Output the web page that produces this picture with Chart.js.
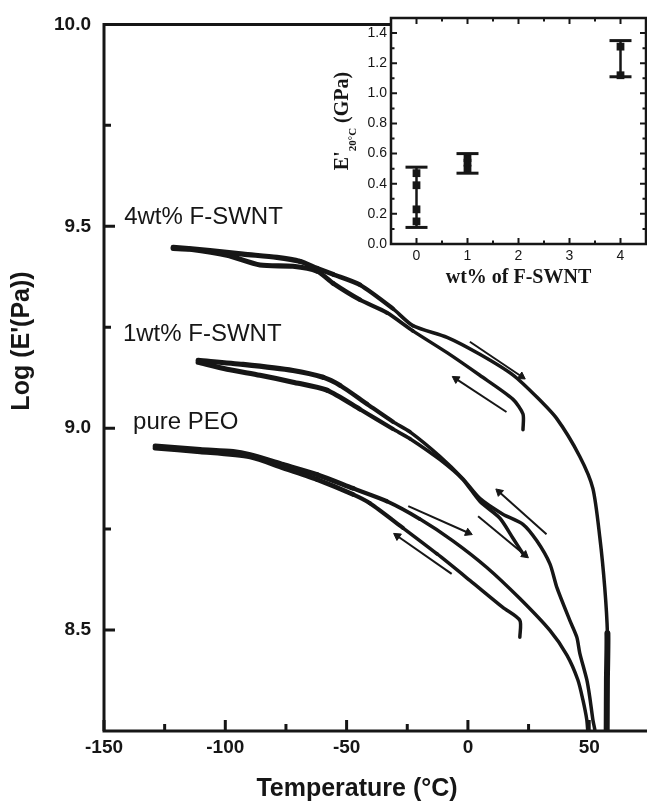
<!DOCTYPE html>
<html>
<head>
<meta charset="utf-8">
<script src="https://cdn.jsdelivr.net/npm/chart.js@4.4.1/dist/chart.umd.min.js"></script>
<style>
  html, body { margin: 0; padding: 0; background: #fff; overflow: hidden; }
  #wrap { position: relative; width: 647px; height: 812px; overflow: hidden; background: #fff; }
  #main { position: absolute; left: 0; top: 0; }
  #inset { position: absolute; left: 300px; top: 0; }
</style>
</head>
<body>
<div id="wrap">
  <canvas id="main" width="700" height="812"></canvas>
  <canvas id="inset" width="360" height="300"></canvas>
</div>
<script>
// Main plot: log storage modulus vs temperature, heating and cooling branch per sample
const pureHeatT = [-128.9, -110.4, -96.8, -89.8, -76.2, -62.2, -47.4, -33.4, -19.8, -6.2, 7.8, 21.4, 33.8, 40.8, 45.3, 47.4, 49.0, 49.4];
const pureHeatLogE = [8.956, 8.947, 8.942, 8.934, 8.910, 8.885, 8.851, 8.819, 8.775, 8.721, 8.655, 8.578, 8.499, 8.438, 8.377, 8.327, 8.278, 8.25];
const pureCoolT = [-128.9, -110.4, -89.8, -76.2, -62.2, -47.4, -40.4, -26.8, -12.8, 0.8, 14.4, 21.4, 21.4];
const pureCoolLogE = [8.951, 8.942, 8.929, 8.902, 8.873, 8.836, 8.814, 8.753, 8.689, 8.623, 8.556, 8.524, 8.482];

const oneHeatT = [-111.2, -92.7, -72.1, -59.7, -52.7, -41.6, -30.9, -23.9, -11.5, -2.1, 4.9, 14.4, 22.7, 28.4, 33.8, 36.7, 42.0, 44.9, 46.1, 49.0, 50.2, 51.5, 52.3];
const oneHeatLogE = [9.168, 9.158, 9.143, 9.126, 9.106, 9.060, 9.016, 8.991, 8.930, 8.875, 8.826, 8.787, 8.762, 8.721, 8.664, 8.605, 8.524, 8.482, 8.443, 8.377, 8.335, 8.278, 8.254];
const oneCoolT = [-111.2, -99.3, -85.7, -72.1, -58.1, -44.5, -30.9, -23.9, -11.5, -2.1, 4.9, 13.2, 18.5, 22.7];
const oneCoolLogE = [9.163, 9.146, 9.131, 9.114, 9.094, 9.047, 8.998, 8.974, 8.922, 8.873, 8.819, 8.777, 8.728, 8.689];

const fourHeatT = [-121.5, -106.3, -92.7, -78.7, -69.2, -62.2, -55.6, -44.5, -30.9, -22.7, -8.6, 4.9, 18.5, 28.4, 36.7, 46.1, 51.5, 54.4, 56.4, 57.5, 57.3, 57.2];
const fourHeatLogE = [9.448, 9.440, 9.431, 9.423, 9.413, 9.396, 9.381, 9.355, 9.296, 9.254, 9.225, 9.183, 9.132, 9.077, 9.023, 8.930, 8.851, 8.728, 8.605, 8.492, 8.377, 8.25];
const fourCoolT = [-121.5, -114.5, -99.3, -85.7, -72.1, -62.2, -55.6, -44.5, -33.4, -22.7, -8.6, 4.9, 18.5, 22.7, 22.7];
const fourCoolLogE = [9.445, 9.443, 9.428, 9.404, 9.401, 9.389, 9.359, 9.318, 9.286, 9.241, 9.187, 9.131, 9.072, 9.035, 8.996];

// direction arrows (tail -> head)
const arrowTailT = [0.8, 15.9, 32.4, 4.2, -24.6, -6.7];
const arrowTailLogE = [9.214, 9.040, 8.737, 8.782, 8.807, 8.639];
const arrowHeadT = [22.1, -4.9, 12.9, 23.5, 0.1, -29.1];
const arrowHeadLogE = [9.128, 9.122, 8.842, 8.686, 8.741, 8.733];

const mainXTicks = [-150, -100, -50, 0, 50];
const mainXMinor = [-125, -75, -25, 25, 75];
const mainYTicks = [8.5, 9.0, 9.5, 10.0];
const mainYMinor = [8.75, 9.25, 9.75];

// Inset: E' at 20 C vs F-SWNT loading
const wtPct = [0, 1, 4];
const modLow = [0.11, 0.47, 1.11];
const modHigh = [0.51, 0.60, 1.35];
const sampleWt = [0, 0, 0, 0, 1, 1, 1, 4, 4];
const sampleMod = [0.15, 0.23, 0.39, 0.47, 0.50, 0.54, 0.57, 1.12, 1.31];

const insetXTicks = [0, 1, 2, 3, 4];
const insetXMinor = [0.5, 1.5, 2.5, 3.5];
const insetYTicks = [0, 0.2, 0.4, 0.6, 0.8, 1.0, 1.2, 1.4];
const insetYMinor = [0.1, 0.3, 0.5, 0.7, 0.9, 1.1, 1.3];

const ink = '#161616';
const sans = '"Liberation Sans", Arial, sans-serif';
const serif = '"Liberation Serif", "Times New Roman", serif';

const toPts = (xs, ys) => xs.map((x, i) => ({x, y: ys[i]}));

// noisy low-temperature part of each trace reads thicker, fading to a thin line
const traceWidth = c => {
    const x = c.p0.parsed.x;
    if (c.p0.parsed.y <= 8.5 && x > 56) return 6;
    const k = Math.min(1, Math.max(0, (-25 - x) / 45));
    return 3.5 + 1.6 * k;
};

const curve = (xs, ys) => ({
    data: toPts(xs, ys),
    showLine: true,
    borderColor: ink,
    borderWidth: 3.5,
    pointRadius: 0,
    tension: 0.25,
    borderCapStyle: 'round',
    borderJoinStyle: 'round',
    segment: { borderWidth: traceWidth }
});

const arrow = (i) => ({
    data: toPts([arrowTailT[i], arrowHeadT[i]], [arrowTailLogE[i], arrowHeadLogE[i]]),
    showLine: true,
    borderColor: ink,
    backgroundColor: ink,
    borderWidth: 2,
    tension: 0,
    pointStyle: 'triangle',
    pointRadius: [0, 4.5],
    pointBorderWidth: 1,
    pointRotation: c => {
        const {x, y} = c.chart.scales;
        const d = c.dataset.data;
        const dx = x.getPixelForValue(d[1].x) - x.getPixelForValue(d[0].x);
        const dy = y.getPixelForValue(d[1].y) - y.getPixelForValue(d[0].y);
        return Math.atan2(dx, -dy) * 180 / Math.PI;
    }
});

// axis lines and inward tick marks
const framePlugin = {
    id: 'frame',
    afterDatasetsDraw(chart, args, o) {
        const {ctx, chartArea: a, scales: {x, y}} = chart;
        ctx.save();
        ctx.strokeStyle = ink;
        ctx.lineWidth = o.lw;
        ctx.beginPath();
        const h = o.lw / 2;
        if (o.sides.includes('left')) { ctx.moveTo(a.left, a.top - h); ctx.lineTo(a.left, a.bottom + h); }
        if (o.sides.includes('right')) { ctx.moveTo(a.right, a.top - h); ctx.lineTo(a.right, a.bottom + h); }
        if (o.sides.includes('top')) { ctx.moveTo(a.left - h, a.top); ctx.lineTo(a.right + h, a.top); }
        if (o.sides.includes('bottom')) { ctx.moveTo(a.left - h, a.bottom); ctx.lineTo(a.right + h, a.bottom); }
        ctx.stroke();

        ctx.lineWidth = o.tw;
        ctx.beginPath();
        const xt = (list, len) => list.forEach(v => {
            const px = x.getPixelForValue(v);
            o.xSides.forEach(s => {
                const y0 = s === 'bottom' ? a.bottom : a.top;
                ctx.moveTo(px, y0);
                ctx.lineTo(px, y0 + (s === 'bottom' ? -len : len));
            });
        });
        const yt = (list, len) => list.forEach(v => {
            const py = y.getPixelForValue(v);
            o.ySides.forEach(s => {
                const x0 = s === 'left' ? a.left : a.right;
                ctx.moveTo(x0, py);
                ctx.lineTo(x0 + (s === 'left' ? len : -len), py);
            });
        });
        xt(o.xMajor, o.major); xt(o.xMinor, o.minor);
        yt(o.yMajor, o.major); yt(o.yMinor, o.minor);
        ctx.stroke();
        ctx.restore();
    }
};

// curve names and axis titles of the main plot
const notesPlugin = {
    id: 'notes',
    afterDraw(chart, args, o) {
        const {ctx, scales: {x, y}} = chart;
        ctx.save();
        ctx.fillStyle = ink;
        ctx.font = `24px ${sans}`;
        ctx.textBaseline = 'alphabetic';
        ctx.textAlign = 'left';
        o.labels.forEach(l => ctx.fillText(l.text, x.getPixelForValue(l.x), y.getPixelForValue(l.y)));

        ctx.font = `bold 25px ${sans}`;
        ctx.textAlign = 'center';
        ctx.textBaseline = 'middle';
        ctx.fillText(o.xTitle.text, o.xTitle.px, o.xTitle.py);
        ctx.translate(o.yTitle.px, o.yTitle.py);
        ctx.rotate(-Math.PI / 2);
        ctx.fillText(o.yTitle.text, 0, 0);
        ctx.restore();
    }
};

new Chart(document.getElementById('main'), {
    type: 'scatter',
    data: {
        datasets: [
            curve(pureHeatT, pureHeatLogE), curve(pureCoolT, pureCoolLogE),
            curve(oneHeatT, oneHeatLogE), curve(oneCoolT, oneCoolLogE),
            curve(fourHeatT, fourHeatLogE), curve(fourCoolT, fourCoolLogE),
            ...arrowTailT.map((t, i) => arrow(i))
        ]
    },
    options: {
        responsive: false,
        animation: false,
        devicePixelRatio: 1,
        layout: { padding: { top: 18, right: 38, left: 0, bottom: 0 } },
        plugins: {
            legend: { display: false },
            tooltip: { enabled: false },
            frame: {
                lw: 3, tw: 3, major: 11, minor: 7,
                sides: ['left', 'bottom', 'top'], xSides: ['bottom'], ySides: ['left'],
                xMajor: mainXTicks, xMinor: mainXMinor, yMajor: mainYTicks, yMinor: mainYMinor
            },
            notes: {
                labels: [
                    { text: '4wt% F-SWNT', x: -141.7, y: 9.505 },
                    { text: '1wt% F-SWNT', x: -142.2, y: 9.216 },
                    { text: 'pure PEO', x: -138, y: 8.997 }
                ],
                xTitle: { text: 'Temperature (°C)', px: 357, py: 789 },
                yTitle: { text: "Log (E'(Pa))", px: 22, py: 341 }
            }
        },
        scales: {
            x: {
                type: 'linear', min: -150, max: 80,
                afterBuildTicks: s => { s.ticks = mainXTicks.map(value => ({value})); },
                afterFit: s => { s.height = 81; },
                grid: { display: false, drawTicks: false },
                border: { display: false },
                ticks: { color: ink, padding: 5, maxRotation: 0, autoSkip: false,
                         font: { family: sans, size: 19, weight: 'bold' } }
            },
            y: {
                min: 8.25, max: 10,
                afterBuildTicks: s => { s.ticks = mainYTicks.map(value => ({value})); },
                afterFit: s => { s.width = 104; },
                grid: { display: false, drawTicks: false },
                border: { display: false },
                ticks: { color: ink, padding: 13, callback: v => v.toFixed(1),
                         font: { family: sans, size: 19, weight: 'bold' } }
            }
        }
    },
    plugins: [framePlugin, notesPlugin]
});

// inset: white panel plus subscripted y title
const insetPlugin = {
    id: 'insetPanel',
    beforeDatasetsDraw(chart) {
        const {ctx, chartArea: a} = chart;
        ctx.save();
        ctx.fillStyle = '#fff';
        ctx.fillRect(a.left, a.top, a.right - a.left, a.bottom - a.top);
        ctx.restore();
    },
    afterDraw(chart) {
        const {ctx, chartArea: a} = chart;
        const parts = [
            { t: "E'", f: `bold 20px ${serif}`, dy: 0 },
            { t: '20°C', f: `bold 11px ${serif}`, dy: 8 },
            { t: ' (GPa)', f: `bold 20px ${serif}`, dy: 0 }
        ];
        ctx.save();
        ctx.fillStyle = ink;
        ctx.textBaseline = 'alphabetic';
        ctx.textAlign = 'left';
        let total = 0;
        parts.forEach(p => { ctx.font = p.f; p.w = ctx.measureText(p.t).width; total += p.w; });
        ctx.translate(a.left - 43, 121);
        ctx.rotate(-Math.PI / 2);
        let cx = -total / 2;
        parts.forEach(p => { ctx.font = p.f; ctx.fillText(p.t, cx, p.dy); cx += p.w; });
        ctx.restore();
    }
};

new Chart(document.getElementById('inset'), {
    type: 'scatter',
    data: {
        datasets: [
            ...wtPct.map((w, i) => ({
                data: [{x: w, y: modLow[i]}, {x: w, y: modHigh[i]}],
                showLine: true,
                borderColor: ink,
                borderWidth: 2.5,
                pointStyle: 'line',
                pointRadius: 11,
                pointBorderWidth: 3,
                pointBorderColor: ink
            })),
            {
                data: toPts(sampleWt, sampleMod),
                pointStyle: 'rect',
                pointRadius: 5.5,
                backgroundColor: ink,
                borderColor: ink,
                pointBorderWidth: 0
            }
        ]
    },
    options: {
        responsive: false,
        animation: false,
        devicePixelRatio: 1,
        layout: { padding: { top: 18, right: 11, left: 0, bottom: 0 } },
        plugins: {
            legend: { display: false },
            tooltip: { enabled: false },
            frame: {
                lw: 2.5, tw: 2, major: 6, minor: 3.5,
                sides: ['left', 'bottom', 'top', 'right'], xSides: ['bottom', 'top'], ySides: ['left', 'right'],
                xMajor: insetXTicks, xMinor: insetXMinor, yMajor: insetYTicks.slice(1), yMinor: insetYMinor
            }
        },
        scales: {
            x: {
                type: 'linear', min: -0.5, max: 4.5,
                afterBuildTicks: s => { s.ticks = insetXTicks.map(value => ({value})); },
                afterFit: s => { s.height = 56; },
                grid: { display: false, drawTicks: false },
                border: { display: false },
                ticks: { color: ink, padding: 4, maxRotation: 0, autoSkip: false,
                         font: { family: sans, size: 14 } },
                title: { display: true, text: 'wt% of F-SWNT', color: ink,
                         font: { family: serif, size: 20, weight: 'bold' }, padding: { top: 0, bottom: 10 } }
            },
            y: {
                min: 0, max: 1.5,
                afterBuildTicks: s => { s.ticks = insetYTicks.map(value => ({value})); },
                afterFit: s => { s.width = 91; },
                grid: { display: false, drawTicks: false },
                border: { display: false },
                ticks: { color: ink, padding: 4, callback: v => v.toFixed(1),
                         font: { family: sans, size: 14 } }
            }
        }
    },
    plugins: [insetPlugin, framePlugin]
});
</script>
</body>
</html>
